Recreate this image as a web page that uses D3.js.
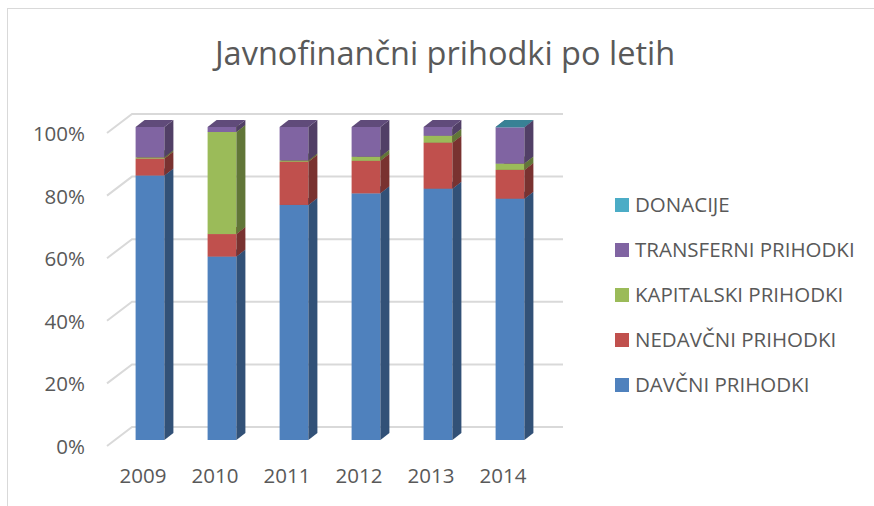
<!DOCTYPE html>
<html>
<head>
<meta charset="utf-8">
<script src="https://cdn.jsdelivr.net/npm/d3@7"></script>
<style>
  body { margin: 0; background: #fff; }
  text { font-family: "Open Sans", sans-serif; fill: #595959; }
</style>
</head>
<body>
<div id="chart"></div>
<script>

// data (percent share per year)
const years = ['2009', '2010', '2011', '2012', '2013', '2014'];
const seriesNames = ['DAVČNI PRIHODKI', 'NEDAVČNI PRIHODKI', 'KAPITALSKI PRIHODKI', 'TRANSFERNI PRIHODKI', 'DONACIJE'];
const davcni = [84.5, 58.6, 75.1, 78.8, 80.3, 77.1];
const nedavcni = [5.4, 7.2, 13.8, 10.4, 14.7, 9.2];
const kapitalski = [0.4, 32.6, 0.4, 1.3, 2.2, 2.0];
const transferni = [9.7, 1.6, 10.7, 9.5, 2.8, 11.6];
const donacije = [0, 0, 0, 0, 0, 0.1];
const yTicks = [0, 0.2, 0.4, 0.6, 0.8, 1];

const colors = ['#4f81bd', '#c0504d', '#9bbb59', '#8064a2', '#4bacc6'];

let width = 874, height = 506;

let svg = d3.select('#chart').append('svg')
    .attr('width', width)
    .attr('height', height);

// frame
svg.append('rect')
    .attr('x', 7.5).attr('y', 8.5)
    .attr('width', 900).attr('height', 600)
    .attr('fill', '#fff')
    .attr('stroke', '#d9d9d9');

// title
svg.append('text')
    .attr('x', 445)
    .attr('y', 65)
    .attr('text-anchor', 'middle')
    .style('font-size', '32.5px')
    .text('Javnofinančni prihodki po letih');

// build table for stacking
let table = years.map((yr, i) => {
    let row = { year: yr };
    row[seriesNames[0]] = davcni[i];
    row[seriesNames[1]] = nedavcni[i];
    row[seriesNames[2]] = kapitalski[i];
    row[seriesNames[3]] = transferni[i];
    row[seriesNames[4]] = donacije[i];
    return row;
});

let stacked = d3.stack()
    .keys(seriesNames)
    .offset(d3.stackOffsetExpand)(table);

// front plane scale (floor front edge) and 3d offsets
let y = d3.scaleLinear().domain([0, 1]).range([446, 133]);
let x = d3.scaleBand().domain(years).range([114, 546])
    .paddingInner(0.6).paddingOuter(0.3);

const wall = { dx: 25, dy: -19 };   // depth of the floor
const barOff = { dx: 0, dy: -6 };   // bar front relative to front plane
const depth = { dx: 9, dy: -7 };    // bar depth

const wallLeft = 107, wallRight = 563 - wall.dx;

// gridlines: diagonal on side + line on back wall
let grid = svg.append('g').attr('class', 'grid');
grid.selectAll('path')
    .data(yTicks)
    .enter()
    .append('path')
    .attr('d', d => {
        let y0 = y(d);
        return 'M' + wallLeft + ',' + y0 +
            'L' + (wallLeft + wall.dx) + ',' + (y0 + wall.dy) +
            'L' + (wallRight + wall.dx) + ',' + (y0 + wall.dy);
    })
    .attr('fill', 'none')
    .attr('stroke', '#d9d9d9')
    .attr('stroke-width', 2);

// y axis labels
let yAxis = d3.axisLeft(y)
    .tickValues(yTicks)
    .tickFormat(d3.format('.0%'))
    .tickSize(0)
    .tickPadding(22);

svg.append('g')
    .attr('class', 'yaxis')
    .attr('transform', 'translate(' + wallLeft + ',1)')
    .call(yAxis)
    .call(g => g.select('.domain').remove())
    .selectAll('text')
    .style('font-size', '20.5px')
    .attr('fill', '#595959');

// x axis labels
let xAxis = d3.axisBottom(x).tickSize(0).tickPadding(0);
svg.append('g')
    .attr('class', 'xaxis')
    .attr('transform', 'translate(-7,468)')
    .call(xAxis)
    .call(g => g.select('.domain').remove())
    .selectAll('text')
    .style('font-size', '20.5px')
    .attr('fill', '#595959');

// bars
let bars = svg.append('g').attr('class', 'bars');
let bw = x.bandwidth();

years.forEach((yr, i) => {
    let g = bars.append('g');
    stacked.forEach((layer, k) => {
        let d = layer[i];
        if (d[1] - d[0] <= 0) return;
        let x0 = x(yr) + barOff.dx, x1 = x0 + bw;
        let yb = y(d[0]) + barOff.dy, yt = y(d[1]) + barOff.dy;
        let c = colors[k];

        // front
        g.append('rect')
            .attr('x', x0).attr('y', yt)
            .attr('width', bw).attr('height', yb - yt)
            .attr('fill', c);
        // side
        g.append('path')
            .attr('d', 'M' + x1 + ',' + yb + 'L' + (x1 + depth.dx) + ',' + (yb + depth.dy) +
                'L' + (x1 + depth.dx) + ',' + (yt + depth.dy) + 'L' + x1 + ',' + yt + 'Z')
            .attr('fill', d3.color(c).darker(1.3));
        // top
        g.append('path')
            .attr('d', 'M' + x0 + ',' + yt + 'L' + x1 + ',' + yt +
                'L' + (x1 + depth.dx) + ',' + (yt + depth.dy) + 'L' + (x0 + depth.dx) + ',' + (yt + depth.dy) + 'Z')
            .attr('fill', d3.color(c).darker(0.8));
    });
});

// legend
let legend = svg.append('g').attr('class', 'legend')
    .attr('transform', 'translate(615,0)');

let legendItems = seriesNames.map((n, k) => ({ name: n, color: colors[k] })).reverse();
let ly = d3.scalePoint().domain(legendItems.map(d => d.name)).range([205, 385]);

legend.selectAll('rect')
    .data(legendItems)
    .enter()
    .append('rect')
    .attr('x', 0)
    .attr('y', d => ly(d.name) - 7)
    .attr('width', 14).attr('height', 14)
    .attr('fill', d => d.color);

legend.selectAll('text')
    .data(legendItems)
    .enter()
    .append('text')
    .attr('x', 20)
    .attr('y', d => ly(d.name))
    .attr('dy', '0.36em')
    .style('font-size', '20.5px')
    .text(d => d.name);

</script>
</body>
</html>
